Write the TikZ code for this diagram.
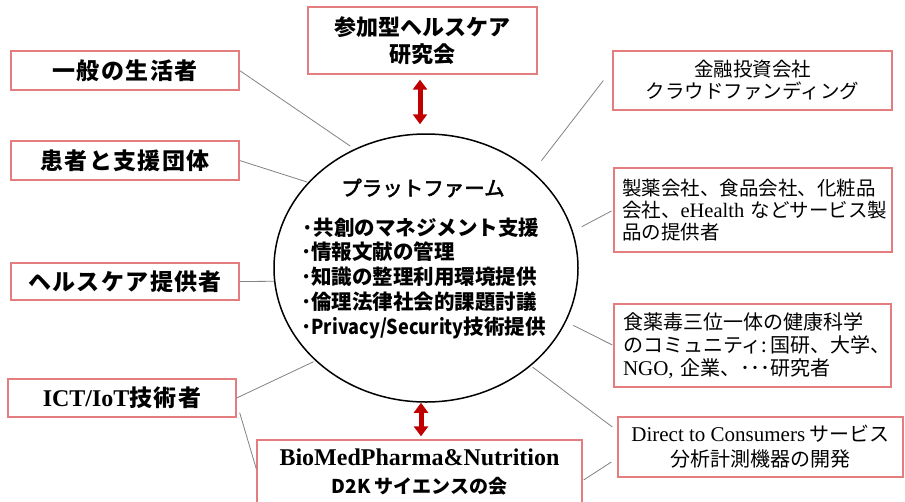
\documentclass[tikz,border=0pt]{standalone}
\usepackage{fontspec}
\usepackage{graphicx}
\setmainfont{Noto Sans CJK JP}
\newfontfamily\tms{Liberation Serif}
\newfontfamily\jpmed{Noto Sans CJK JP}[FakeBold=2.5]
\usetikzlibrary{shapes.geometric,arrows.meta,calc}
\definecolor{boxred}{RGB}{228,125,125}
\definecolor{linegray}{RGB}{130,130,130}
\definecolor{darkred}{RGB}{192,0,0}
\tikzset{
  box/.style={draw=boxred, line width=1.3pt, rectangle, inner sep=0pt, align=center, text=black},
  conn/.style={draw=linegray, line width=0.8pt},
  darr/.style={draw=darkred, line width=5pt, {Triangle[width=14pt,length=10pt]}-{Triangle[width=14pt,length=10pt]}},
  leftfont/.style={font=\fontsize{23}{27}\selectfont\bfseries\addfontfeature{LetterSpace=6}},
  rightfont/.style={font=\fontsize{19.5}{22}\selectfont},
  item/.style={anchor=west, inner sep=0pt, font=\fontsize{20.5}{24}\selectfont\bfseries}
}
\begin{document}
\begin{tikzpicture}[x=1pt,y=-1pt]
\useasboundingbox (0,0) rectangle (905,501);
\clip (0,0) rectangle (905,501);
% central ellipse
\node[draw, ellipse, line width=1.5pt, minimum width=304, minimum height=268, inner sep=0pt] (c) at (426,268) {};
\node[inner sep=0pt, font=\fontsize{20.5}{24}\selectfont\jpmed] (ttl) at (423,188) {プラットファーム};
\node[item] (i1) at (301,228) {·共創のマネジメント支援};
\node[item] (i2) at (301,252) {･情報文献の管理};
\node[item] (i3) at (301,277) {･知識の整理利用環境提供};
\node[item] (i4) at (301,302) {･倫理法律社会的課題討議};
\node[item] (i5) at (301,328) {･\scalebox{0.88}[1]{Privacy/Security}技術提供};
% top and bottom boxes
\node[box, minimum width=229, minimum height=67, font=\fontsize{22}{27}\selectfont\bfseries] (top) at (422.5,40.5) {参加型ヘルスケア\\研究会};
\node[box, minimum width=325, minimum height=64, font=\fontsize{19}{28}\selectfont] (bio) at (419.5,472) {{\tms\fontsize{24}{28}\selectfont\bfseries BioMedPharma\&Nutrition}\\{\bfseries D2K サイエンスの会}};
% left boxes
\node[box, leftfont, minimum width=228, minimum height=39] (gen) at (125,70.5) {一般の生活者};
\node[box, leftfont, minimum width=228, minimum height=39] (pat) at (125,160.5) {患者と支援団体};
\node[box, leftfont, minimum width=228, minimum height=37] (hc) at (125,281.5) {ヘルスケア提供者};
\node[box, leftfont, minimum width=228, minimum height=38] (ict) at (122,398) {{\tms\fontsize{24}{27}\selectfont ICT/IoT}技術者};
% right boxes
\node[box, rightfont, minimum width=279, minimum height=59] (fin) at (752.5,80.5) {金融投資会社\\クラウドファンディング};
\node[box, rightfont, inner xsep=8pt, text width=262pt, align=left, minimum height=84] (pha) at (753,210) {\mbox{製薬会社、食品会社、化粧品}\\\mbox{会社、{\tms\fontsize{20.5}{22}\selectfont eHealth} などサービス製}\\\mbox{品の提供者}};
\node[box, font=\fontsize{20}{23}\selectfont, inner xsep=9pt, text width=259pt, align=left, minimum height=83] (food) at (752.5,345.5) {\mbox{食薬毒三位一体の健康科学}\\\mbox{のコミュニティ:\,国研、大学、}\\\mbox{{\tms\fontsize{21}{23}\selectfont NGO,} 企業、･･･研究者}};
\node[box, font=\fontsize{20}{25}\selectfont, minimum width=285, minimum height=60] (dtc) at (760.5,447) {{\tms\fontsize{21}{25}\selectfont Direct to Consumers} サービス\\分析計測機器の開発};
% arrows
\draw[darr] ([xshift=-2.5pt,yshift=-5pt]top.south) -- ([xshift=-6pt,yshift=9pt]c.north);
\draw[darr] ([xshift=-5pt,yshift=0pt]c.south) -- ([xshift=1.5pt,yshift=3pt]bio.north);
% connectors
\draw[conn, shorten >=5pt] (gen.east) -- (c.121);
\draw[conn, shorten >=1pt] (pat.east) -- (c.144);
\draw[conn] (hc.east) -- (c.185);
\draw[conn, shorten >=2pt] (ict.east) -- (c.220);
\draw[conn] ($(ict.south east)+(3,-5)$) -- ($(bio.west)+(0,-3)$);
\draw[conn, shorten <=14pt] (c.42) -- ($(fin.west)+(-9,0)$);
\draw[conn, shorten <=10pt, shorten >=2pt] (c.14) -- (pha.west);
\draw[conn, shorten <=8pt, shorten >=1pt] (c.-21) -- (food.west);
\draw[conn, shorten <=2pt] (c.-43) -- ($(dtc.west)+(-5,-20)$);
\draw[conn] ($(bio.east)+(1,8)$) -- ($(dtc.west)+(-6,15)$);
\end{tikzpicture}
\end{document}
